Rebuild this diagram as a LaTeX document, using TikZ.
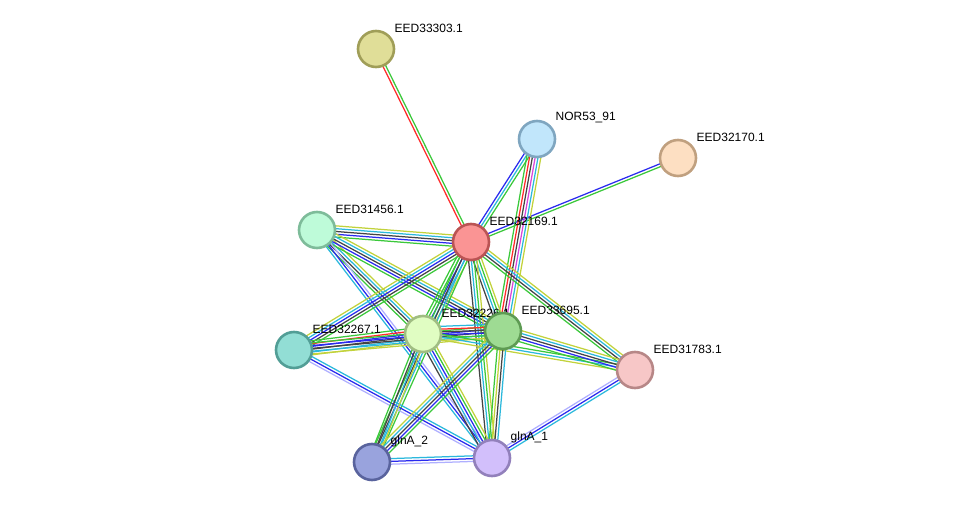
\documentclass[tikz,border=0pt]{standalone}
\usepackage{fontspec}
\setmainfont{Liberation Sans}
\usetikzlibrary{calc}
\pgfdeclarelayer{bg}
\pgfsetlayers{bg,main}
\definecolor{cgr}{HTML}{3BC83B}
\definecolor{cre}{HTML}{FF2A2A}
\definecolor{cbl}{HTML}{2A2AEE}
\definecolor{cbk}{HTML}{444444}
\definecolor{cmg}{HTML}{D946D9}
\definecolor{ccy}{HTML}{2BB8DC}
\definecolor{cye}{HTML}{C2D23B}
\definecolor{clp}{HTML}{AFAFFF}
\tikzset{
  prot/.style={circle,minimum size=36pt,inner sep=0pt,line width=2.6pt},
  lbl/.style={anchor=west,font=\fontsize{12pt}{12pt}\selectfont,inner sep=0.5pt,text=black},
  eline/.style={line width=1.25pt}
}
\newcommand\mline[3]{%
  \xdef\nn{0}\foreach \c in {#3}{\xdef\nn{\the\numexpr\nn+1\relax}}%
  \foreach \c [count=\i] in {#3}{%
    \pgfmathsetmacro\off{(\i-(\nn+1)/2)*2.8}%
    \draw[eline,\c] ($(#1)!\off pt!90:(#2)$) -- ($(#2)!\off pt!-90:(#1)$);
  }}
\begin{document}
\begin{tikzpicture}[x=1pt,y=-1pt]
\useasboundingbox (0,0) rectangle (976,508);
% nodes
\node[prot,fill={rgb,255:red,224;green,222;blue,152},draw={rgb,255:red,160;green,158;blue,88}] (Q) at (376,49) {};
\node[lbl] (Ql) at (394,28) {EED33303.1};
\node[prot,fill={rgb,255:red,193;green,230;blue,251},draw={rgb,255:red,127;green,166;blue,192}] (N) at (537,139) {};
\node[lbl] (Nl) at (555,118) {NOR53\_91};
\node[prot,fill={rgb,255:red,253;green,223;blue,194},draw={rgb,255:red,192;green,160;blue,127}] (P) at (678,158) {};
\node[lbl] (Pl) at (696,137) {EED32170.1};
\node[prot,fill={rgb,255:red,190;green,251;blue,217},draw={rgb,255:red,126;green,188;blue,154}] (B) at (317,230) {};
\node[lbl] (Bl) at (335,209) {EED31456.1};
\node[prot,fill={rgb,255:red,250;green,148;blue,148},draw={rgb,255:red,186;green,84;blue,84}] (A) at (471,242) {};
\node[lbl] (Al) at (489,221) {EED32169.1};
\node[prot,fill={rgb,255:red,146;green,222;blue,213},draw={rgb,255:red,82;green,158;blue,150}] (E) at (294,350) {};
\node[lbl] (El) at (312,329) {EED32267.1};
\node[prot,fill={rgb,255:red,224;green,253;blue,194},draw={rgb,255:red,160;green,189;blue,130}] (C) at (423,334) {};
\node[lbl] (Cl) at (441,313) {EED32226.1};
\node[prot,fill={rgb,255:red,158;green,219;blue,147},draw={rgb,255:red,94;green,155;blue,83}] (D) at (503,331) {};
\node[lbl] (Dl) at (521,310) {EED33695.1};
\node[prot,fill={rgb,255:red,247;green,199;blue,199},draw={rgb,255:red,183;green,135;blue,135}] (F) at (635,370) {};
\node[lbl] (Fl) at (653,349) {EED31783.1};
\node[prot,fill={rgb,255:red,153;green,163;blue,221},draw={rgb,255:red,89;green,99;blue,157}] (G2) at (372,462) {};
\node[lbl] (G2l) at (390,441) {glnA\_2};
\node[prot,fill={rgb,255:red,210;green,191;blue,251},draw={rgb,255:red,146;green,128;blue,187}] (G1) at (492,458) {};
\node[lbl] (G1l) at (510,437) {glnA\_1};
% edges
\begin{pgfonlayer}{bg}
\mline{Q}{A}{cre,cgr}
\mline{P}{A}{cbl,cgr}
\mline{N}{A}{cbl,ccy,cgr}
\mline{N}{D}{cgr,cre,cbk,cmg,ccy,cye}
\mline{B}{A}{cgr,cbl,cbk,ccy,cye}
\mline{B}{C}{cgr,cbk,ccy,cye}
\mline{B}{D}{cgr,cbl,cbk,ccy,cye}
\mline{B}{G1}{ccy,cbl,clp}
\mline{A}{C}{cgr,cgr,cbl,ccy,cye}
\mline{A}{D}{cbk,ccy,cgr,cye}
\mline{A}{E}{cye,ccy,cbl,cbk,cgr}
\mline{A}{F}{cgr,cbk,ccy,cye}
\mline{A}{G1}{cbk,ccy,cgr,cye}
\mline{A}{G2}{cgr,cbk,ccy,cgr}
\mline{E}{C}{cye,ccy,cbk,cbl,cre,cgr}
\mline{E}{D}{cye,ccy,cbk,cbl,cgr}
\mline{E}{G1}{clp,cbl,ccy}
\mline{C}{D}{cye,cgr,cbl,cbk,cre,ccy}
\mline{C}{F}{cye,ccy,cgr}
\mline{D}{F}{cgr,cbl,cbk,ccy,cye}
\mline{C}{G1}{cbk,ccy,cbl,cgr,cye}
\mline{C}{G2}{cgr,cbk,ccy,cye}
\mline{D}{G1}{cgr,cye,cbk,ccy}
\mline{D}{G2}{cye,ccy,cbk,cbl,cgr}
\mline{G2}{G1}{clp,cbl,ccy}
\mline{F}{G1}{clp,cbl,ccy}
\end{pgfonlayer}
\end{tikzpicture}
\end{document}
